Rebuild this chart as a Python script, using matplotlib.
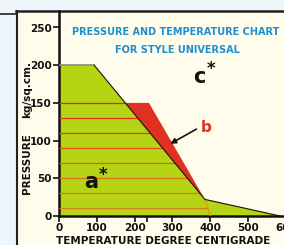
import matplotlib
matplotlib.use("Agg")
import matplotlib.pyplot as plt
from matplotlib.lines import Line2D
from matplotlib.patches import Rectangle
import numpy as np

# ---- data ----
green_x = [0, 0, 93, 386, 585]
green_y = [0, 200, 200, 22, 0]
red_x = [175, 238, 386]
red_y = [150, 150, 22]
boundary_x = [93, 386, 400]
boundary_y = [200, 22, 0]
line_levels = [150, 130, 110, 90, 70, 50, 30, 10]
line_colors = ['#e8261c', '#e52e1c', '#e4401c', '#e2531c', '#df651c', '#dc721c', '#d97a1c', '#d6801c']
x_ticks = [0, 100, 200, 300, 400, 500, 600]
x_extra_tick = [232]
y_ticks = [0, 50, 100, 150, 200, 250]

W, H = 284, 245
fig = plt.figure(figsize=(W / 100, H / 100), dpi=100)
fig.patch.set_facecolor('#eef5fb')

def fx(px):
    return px / W

def fy(py):
    return 1 - py / H

# cream panel
fig.patches.append(Rectangle((fx(16), 0), 1, fy(11), transform=fig.transFigure,
                             facecolor='#fffcec', edgecolor='none', zorder=-5))
fig.lines.append(Line2D([fx(16), 1], [fy(11.5), fy(11.5)], transform=fig.transFigure, color='#222222', lw=1.8, zorder=-4))
fig.lines.append(Line2D([fx(16.5), fx(16.5)], [0, fy(11)], transform=fig.transFigure, color='#222222', lw=1.5, zorder=-4))
fig.lines.append(Line2D([0, fx(16)], [fy(14), fy(14)], transform=fig.transFigure, color='#222222', lw=1.2, zorder=-4))

x0px, y0px = 59, 216
sx, sy = 0.378, 0.754
xmax = (W + 40 - x0px) / sx
ymax = (y0px - 11) / sy
ax = fig.add_axes([fx(x0px), 1 - y0px / H, (xmax * sx) / W, (ymax * sy) / H])
ax.set_xlim(0, xmax)
ax.set_ylim(0, ymax)
ax.set_facecolor('none')
ax.set_zorder(2)

ax.fill(green_x, green_y, color='#b5d414', lw=0, zorder=1)
ax.fill(red_x + [boundary_x[1]], red_y + [boundary_y[1]], color='#e03020', lw=0, zorder=2)

# horizontal lines from 0 to the boundary
bx = np.array(boundary_x[::-1], dtype=float)
by = np.array(boundary_y[::-1], dtype=float)
for lvl, col in zip(line_levels, line_colors):
    xe = np.interp(lvl, by, bx)
    ax.plot([0, xe], [lvl, lvl], color=col, lw=0.9, zorder=3, solid_capstyle='butt')

ax.plot(boundary_x[1:], boundary_y[1:], color='#e8921c', lw=0.9, zorder=3)
ax.plot(green_x[1:3], green_y[1:3], color='#8a8a70', lw=1.2, zorder=4)
ax.plot(green_x[2:], green_y[2:], color='#111111', lw=0.8, zorder=4)

for s in ['top', 'right']:
    ax.spines[s].set_visible(False)
for s in ['left', 'bottom']:
    ax.spines[s].set_linewidth(1.8)
    ax.spines[s].set_color('#111111')

ax.set_xticks(x_ticks + x_extra_tick)
ax.set_xticklabels([str(t) for t in x_ticks] + [''])
ax.set_yticks(y_ticks)
ax.set_yticklabels([str(t) for t in y_ticks])
ax.tick_params(axis='both', length=4, width=1.2, color='#111111', pad=1,
               labelsize=7.5, labelcolor='#111111')
for lab in ax.get_xticklabels() + ax.get_yticklabels():
    lab.set_fontweight('bold')

bold = dict(fontweight='bold', color='#111111')
fig.text(fx(27), fy(164), 'PRESSURE', rotation=90, ha='center', va='center', fontsize=7.5, **bold)
fig.text(fx(27), fy(90), 'kg/sq.cm.', rotation=90, ha='center', va='center', fontsize=7.5, **bold)
fig.text(fx(163), fy(241), 'TEMPERATURE DEGREE CENTIGRADE', ha='center', va='center', fontsize=7.5, **bold)

blue = '#1b8fd0'
fig.text(fx(176), fy(32), 'PRESSURE AND TEMPERATURE CHART', ha='center', va='center',
         fontsize=7, fontweight='bold', color=blue, zorder=5)
fig.text(fx(177), fy(50), 'FOR STYLE UNIVERSAL', ha='center', va='center',
         fontsize=7, fontweight='bold', color=blue, zorder=5)

ax.text(370, 184, 'c', ha='center', va='center', fontsize=15, fontweight='bold', color='#111111', zorder=5)
ax.text(402, 195, '*', ha='center', va='center', fontsize=12, fontweight='bold', color='#111111', zorder=5)
ax.text(85, 45, 'a', ha='center', va='center', fontsize=15, fontweight='bold', color='#111111', zorder=5)
ax.text(116, 55, '*', ha='center', va='center', fontsize=12, fontweight='bold', color='#111111', zorder=5)
ax.text(389, 118, 'b', ha='center', va='center', fontsize=11, fontweight='bold', color='#e03020', zorder=5)
ax.annotate('', xy=(288, 94), xytext=(370, 117),
            arrowprops=dict(arrowstyle='-|>', color='#111111', lw=1.2, mutation_scale=8), zorder=5)

fig.savefig('out.png', dpi=100, facecolor=fig.get_facecolor())
